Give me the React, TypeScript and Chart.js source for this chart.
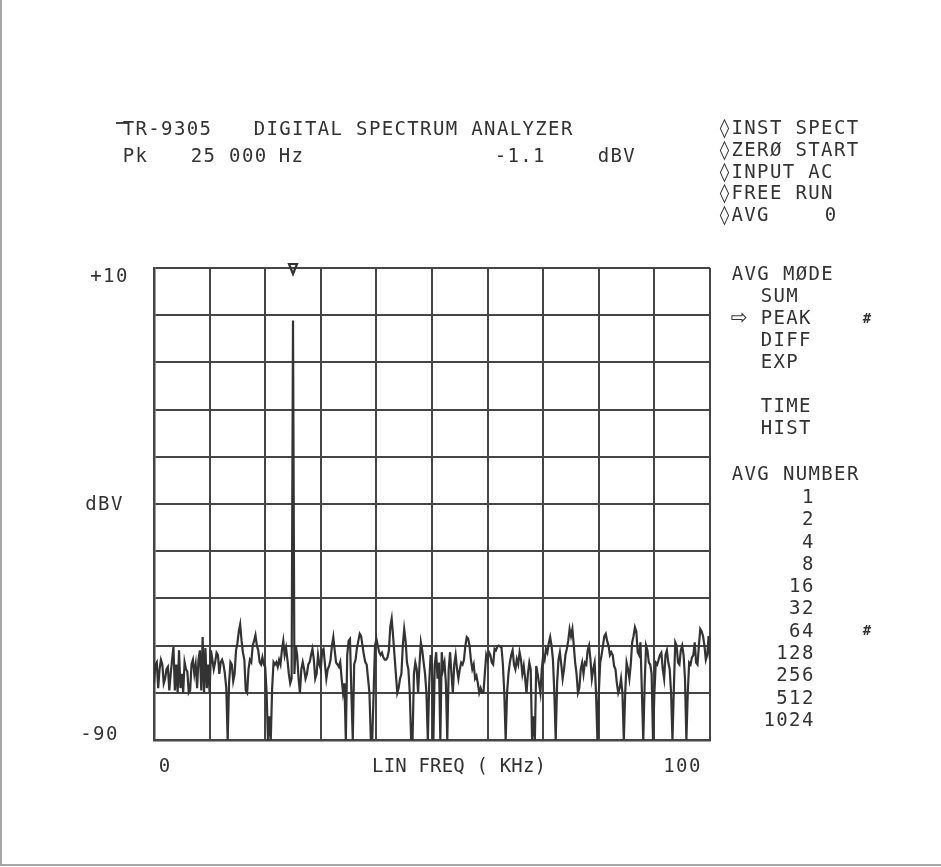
import React, { useEffect, useRef } from "react";
import { Chart, registerables } from "chart.js";

Chart.register(...registerables);

// ---- data: spectrum (dBV) sampled every 0.25 kHz, 0 .. 100 kHz ----
const FREQ_STEP_KHZ = 0.25;
const band0to10 = [
  -78, -74, -73.5, -79, -75, -73, -74, -78, -77, -75,
  -74.5, -79.5, -76, -73, -70.3, -79.5, -74, -80, -71, -79,
  -76, -80, -73.5, -75, -75.5, -80, -79.5, -74, -73, -76,
  -74, -79, -73, -71, -79.5, -68.2, -80, -70.5, -79, -74,
];
const band10to20 = [
  -80, -71, -73, -75, -73.5, -71.5, -72, -76, -73.5, -73,
  -74, -76, -79, -90, -78, -73.5, -74, -77.5, -76, -71,
  -69.5, -67, -65.5, -69, -71.5, -73, -79.5, -80, -75, -73,
  -73.5, -70, -69, -67.8, -70, -71, -73.5, -74, -72.5, -74,
];
const band20to30 = [
  -74.5, -80, -90, -85, -90, -79, -73.5, -74, -73.5, -74.5,
  -73, -74, -71, -69, -72, -70.5, -73, -76, -78, -77,
  -1.1, -76, -70, -72, -77, -80, -75, -73.5, -75, -77,
  -76, -74, -73.5, -72, -70.7, -73, -77, -76, -72, -74,
];
const band30to40 = [
  -75, -71, -70.7, -74, -77, -75, -74.3, -73, -70, -68.2,
  -71, -73.6, -74, -74.5, -73.5, -77, -80, -78, -90, -72,
  -69, -68.6, -80, -90, -74, -73, -70.5, -69, -67.5, -68,
  -70, -72, -73.5, -74, -77, -80, -90, -90, -80, -70,
];
const band40to50 = [
  -68.6, -70, -71.4, -72, -71.5, -72.5, -73, -73, -72.5, -71,
  -66, -64.3, -68, -72, -76, -80, -79, -77, -76, -70,
  -66.5, -69, -73.6, -75, -80, -90, -90, -76, -73.6, -75,
  -80, -74, -69.3, -71, -73.6, -76, -80, -90, -78, -72,
];
const band50to60 = [
  -74, -90, -74, -71.4, -77, -73.6, -90, -71.4, -75, -73.6,
  -78, -90, -75, -71.4, -76, -80, -74, -72, -75, -77,
  -75, -73.6, -74, -73, -70, -68.2, -68.5, -70, -73, -75,
  -74, -77, -76.4, -78, -80, -79, -80, -80, -76, -72,
];
const band60to70 = [
  -73, -71.4, -72, -73.6, -74, -70.7, -71, -70.2, -70, -70.2,
  -70.4, -74, -80, -90, -80, -76, -73.6, -72, -71, -74,
  -75, -72.9, -74, -71.4, -73, -76, -74.3, -77, -80, -76,
  -73.6, -75, -90, -85, -90, -74.3, -76, -78, -80, -75,
];
const band70to80 = [
  -72, -73, -70.7, -71.5, -69.5, -68.2, -70, -72.9, -80, -90,
  -78, -73, -71.4, -74, -77, -75, -72, -70.7, -69, -66.5,
  -68, -66.5, -70, -73.6, -76, -80, -79, -75, -73.6, -76,
  -73.6, -74, -71, -70, -73, -77, -75, -73.6, -80, -90,
];
const band80to90 = [
  -80, -73.6, -72, -70, -68, -67.5, -69, -70, -72, -71.4,
  -72, -74.3, -75, -78, -80, -79, -77, -80, -90, -80,
  -73.6, -75, -77, -74, -69.3, -68, -66.1, -67, -71.4, -72,
  -69.3, -80, -90, -78, -70, -71, -73.6, -74, -76, -90,
];
const band90to100 = [
  -80, -73.6, -74, -73, -72, -71.5, -75, -77, -72, -71,
  -73.6, -75, -80, -90, -79, -69.3, -70, -73.6, -74, -71,
  -70, -72, -77, -90, -80, -73.6, -74, -72.5, -72, -69.3,
  -73.6, -74, -70, -66.5, -67, -68, -70, -73, -72, -68,
  -73,
];

const PEAK_FREQ_KHZ = 25;
const PEAK_DBV = -1.1;
const X_MIN = 0, X_MAX = 100, X_STEP = 10;
const Y_MIN = -90, Y_MAX = 10, Y_STEP = 10;
const X_TICK_LABELS = ["0", "100"];
const Y_TICK_LABELS = ["+10", "-90"];

const HEADER_TITLE = "DIGITAL SPECTRUM ANALYZER";
const MODEL = "TR-9305";
const READOUT = { label: "Pk", freq: "25 000", freqUnit: "Hz", level: "-1.1", levelUnit: "dBV" };
const STATUS_LINES = ["◊INST SPECT", "◊ZERØ START", "◊INPUT AC", "◊FREE RUN", "◊AVG"];
const AVG_VALUE = "0";
const AVG_MODES = ["SUM", "PEAK", "DIFF", "EXP", "", "TIME", "HIST"];
const SELECTED_MODE = "PEAK";
const AVG_NUMBERS = ["1", "2", "4", "8", "16", "32", "64", "128", "256", "512", "1024"];
const SELECTED_NUMBER = "64";

const spectrum = [
  ...band0to10, ...band10to20, ...band20to30, ...band30to40, ...band40to50,
  ...band50to60, ...band60to70, ...band70to80, ...band80to90, ...band90to100,
];

const INK = "#333333";
const P = 12.8; // plotter character pitch
const FONT = "19px 'DejaVu Sans Mono'";

function mono(ctx: CanvasRenderingContext2D, s: string, x: number, y: number, pitch = P) {
  for (let i = 0; i < s.length; i++) {
    ctx.fillText(s[i], x + i * pitch + pitch / 2, y);
  }
}
function monoRight(ctx: CanvasRenderingContext2D, s: string, right: number, y: number, pitch = P) {
  mono(ctx, s, right - s.length * pitch, y, pitch);
}

const textPlugin = {
  id: "plotterText",
  afterDraw(chart: any) {
    const ctx: CanvasRenderingContext2D = chart.ctx;
    const xs = chart.scales.x;
    const ys = chart.scales.y;
    const area = chart.chartArea;
    ctx.save();
    ctx.fillStyle = INK;
    ctx.strokeStyle = INK;
    ctx.textAlign = "center";
    ctx.textBaseline = "middle";
    ctx.font = FONT;

    // header
    ctx.lineWidth = 1.8;
    ctx.beginPath();
    ctx.moveTo(116, 123);
    ctx.lineTo(128, 123);
    ctx.stroke();
    mono(ctx, MODEL, 122, 130);
    mono(ctx, HEADER_TITLE, 253, 130);
    mono(ctx, READOUT.label, 122, 157);
    mono(ctx, READOUT.freq, 190, 157);
    mono(ctx, READOUT.freqUnit, 278, 157);
    mono(ctx, READOUT.level, 494, 157);
    mono(ctx, READOUT.levelUnit, 597, 157);

    // status block
    STATUS_LINES.forEach((s, i) => mono(ctx, s, 718, 129 + i * 21.8));
    mono(ctx, AVG_VALUE, 824, 129 + 4 * 21.8);

    // avg mode block
    mono(ctx, "AVG MØDE", 731, 275);
    AVG_MODES.forEach((s, i) => {
      const y = 297 + i * 22;
      if (s) mono(ctx, s, 760, y);
      if (s === SELECTED_MODE) {
        ctx.font = "20px 'DejaVu Sans'";
        ctx.fillText("⇨", 739, y);
        ctx.font = "bold 14px 'DejaVu Sans Mono'";
        ctx.fillText("#", 867, y);
        ctx.font = FONT;
      }
    });

    // avg number block
    mono(ctx, "AVG NUMBER", 731, 475);
    AVG_NUMBERS.forEach((s, i) => {
      const y = 498 + i * 22.3;
      monoRight(ctx, s, 814, y);
      if (s === SELECTED_NUMBER) {
        ctx.font = "bold 14px 'DejaVu Sans Mono'";
        ctx.fillText("#", 867, y);
        ctx.font = FONT;
      }
    });

    // axis labels
    monoRight(ctx, Y_TICK_LABELS[0], 128, ys.getPixelForValue(Y_MAX) + 9);
    monoRight(ctx, Y_TICK_LABELS[1], 118, ys.getPixelForValue(Y_MIN) - 5);
    monoRight(ctx, "dBV", 123, (ys.getPixelForValue(Y_MIN) + ys.getPixelForValue(Y_MAX)) / 2 + 1);
    mono(ctx, X_TICK_LABELS[0], xs.getPixelForValue(X_MIN) + 4, area.bottom + 27);
    monoRight(ctx, X_TICK_LABELS[1], xs.getPixelForValue(X_MAX) - 9, area.bottom + 27);
    mono(ctx, "LIN FREQ ( KHz)", 372, area.bottom + 27, 11.6);

    // peak marker
    const mx = xs.getPixelForValue(PEAK_FREQ_KHZ);
    const my = area.top;
    ctx.lineWidth = 2.2;
    ctx.beginPath();
    ctx.moveTo(mx - 4, my - 4);
    ctx.lineTo(mx + 4, my - 4);
    ctx.lineTo(mx, my + 6);
    ctx.closePath();
    ctx.stroke();

    // page frame
    ctx.strokeStyle = "#8a8a8a";
    ctx.lineWidth = 1.5;
    ctx.beginPath();
    ctx.moveTo(1, 0);
    ctx.lineTo(1, 865);
    ctx.lineTo(941, 865);
    ctx.stroke();
    ctx.restore();
  },
};

export default function App() {
  const ref = useRef<HTMLCanvasElement | null>(null);
  useEffect(() => {
    if (!ref.current) return;
    const points = spectrum.map((v, i) => ({ x: i * FREQ_STEP_KHZ, y: v }));
    const peakIdx = Math.round(PEAK_FREQ_KHZ / FREQ_STEP_KHZ);
    points[peakIdx] = { x: PEAK_FREQ_KHZ, y: PEAK_DBV };
    const gridColor = "#454545";
    const chart = new Chart(ref.current, {
      type: "line",
      data: {
        datasets: [
          {
            data: points,
            borderColor: "#333333",
            borderWidth: 2.2,
            pointRadius: 0,
            tension: 0,
            fill: false,
          },
        ],
      },
      options: {
        animation: false,
        responsive: false,
        maintainAspectRatio: false,
        layout: { padding: { left: 154, top: 268, right: 231, bottom: 127 } },
        plugins: { legend: { display: false }, tooltip: { enabled: false }, title: { display: false } },
        scales: {
          x: {
            type: "linear",
            min: X_MIN,
            max: X_MAX,
            ticks: { display: false, stepSize: X_STEP },
            grid: { color: gridColor, lineWidth: 2, drawTicks: false },
            border: { color: gridColor, width: 2.5 },
          },
          y: {
            type: "linear",
            min: Y_MIN,
            max: Y_MAX,
            ticks: { display: false, stepSize: Y_STEP },
            grid: { color: gridColor, lineWidth: 2, drawTicks: false },
            border: { color: gridColor, width: 2.5 },
          },
        },
      },
      plugins: [textPlugin],
    });
    return () => chart.destroy();
  }, []);
  return (
    <div style={{ position: "absolute", left: 0, top: 0, width: 941, height: 867, background: "#fff" }}>
      <canvas ref={ref} width={941} height={867} style={{ width: 941, height: 867, display: "block" }} />
    </div>
  );
}
